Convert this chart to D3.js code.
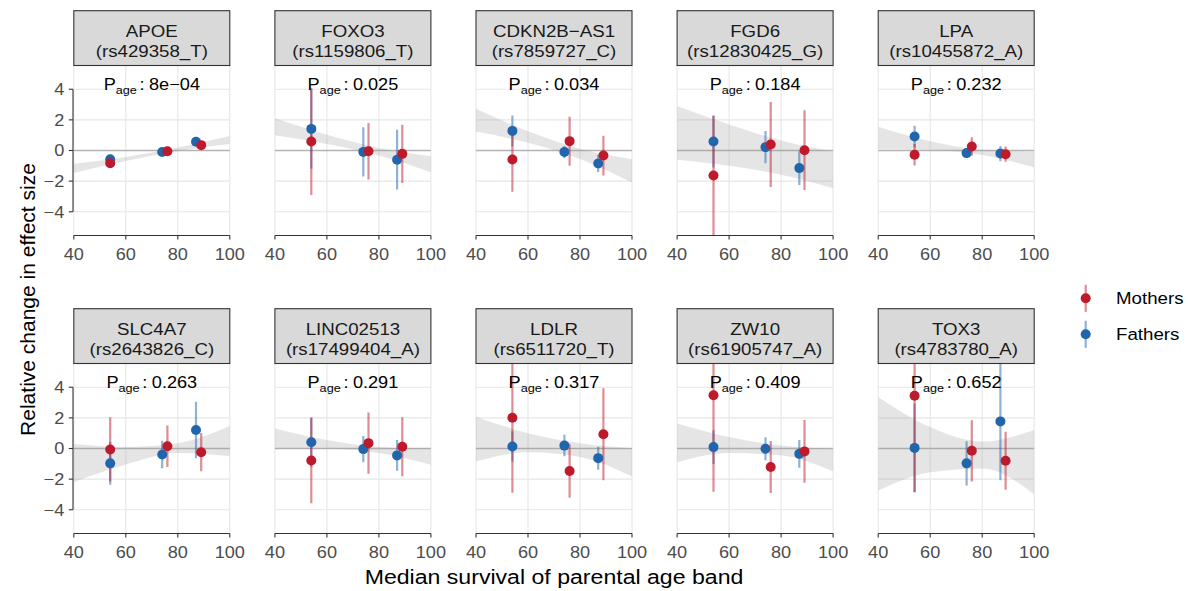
<!DOCTYPE html>
<html>
<head>
<meta charset="utf-8">
<script src="https://cdn.jsdelivr.net/npm/d3@7"></script>
<style>
  html, body { margin: 0; padding: 0; background: #ffffff; }
  svg { display: block; }
  text { font-family: "Liberation Sans", Arial, Helvetica, sans-serif; }
</style>
</head>
<body>
<svg id="chart" width="1190" height="591"></svg>
<script>
// ---------------- data ----------------
const genes = ["APOE", "FOXO3", "CDKN2B\u2212AS1", "FGD6", "LPA",
               "SLC4A7", "LINC02513", "LDLR", "ZW10", "TOX3"];
const snps = ["rs429358_T", "rs1159806_T", "rs7859727_C", "rs12830425_G", "rs10455872_A",
              "rs2643826_C", "rs17499404_A", "rs6511720_T", "rs61905747_A", "rs4783780_A"];
const pAge = ["8e\u221204", "0.025", "0.034", "0.184", "0.232",
              "0.263", "0.291", "0.317", "0.409", "0.652"];

const ageFathers = [54, 74, 87];
const ageMothers = [54, 76, 89];

const fathersEst = [
  [-0.57, -0.10, 0.57], [1.41, -0.09, -0.60], [1.28, -0.10, -0.85], [0.59, 0.22, -1.15], [0.91, -0.17, -0.20],
  [-0.97, -0.39, 1.21], [0.41, -0.04, -0.45], [0.13, 0.19, -0.63], [0.09, -0.02, -0.35], [0.04, -0.97, 1.77]
];
const fathersErr = [
  [0.25, 0.20, 0.25], [2.60, 1.60, 1.95], [1.00, 0.40, 0.55], [1.70, 1.05, 1.10], [0.70, 0.30, 0.50],
  [1.40, 0.90, 1.85], [1.60, 0.85, 1.00], [1.00, 0.70, 0.75], [1.10, 0.75, 0.90], [2.90, 1.45, 3.85]
];
const mothersEst = [
  [-0.83, -0.05, 0.35], [0.59, -0.05, -0.22], [-0.59, 0.61, -0.33], [-1.63, 0.39, 0.02], [-0.28, 0.26, -0.24],
  [-0.06, 0.15, -0.24], [-0.78, 0.35, 0.11], [2.01, -1.47, 0.93], [3.48, -1.21, -0.19], [3.44, -0.15, -0.80]
];
const mothersErr = [
  [0.25, 0.20, 0.20], [3.50, 1.85, 1.90], [2.10, 1.60, 1.30], [3.90, 2.77, 2.60], [0.70, 0.60, 0.50],
  [2.10, 1.35, 1.25], [2.80, 2.00, 1.93], [4.90, 1.75, 3.00], [6.30, 1.70, 2.05], [6.30, 2.00, 1.90]
];

// confidence band of the age trend, read at x = 40, 60, 80, 100
const bandAges = [40, 60, 80, 100];
const bandLower = [
  [-1.47, -0.68, -0.05, 0.42], [1.00, 0.43, -0.33, -1.42], [1.24, 0.50, -0.55, -2.09], [-0.60, -1.00, -1.58, -2.46], [0.10, 0.05, -0.30, -1.10],
  [-2.20, -1.05, -0.30, -0.50], [0.00, 0.00, -0.30, -1.06], [-0.85, -0.25, -0.55, -1.82], [-0.90, -0.30, -0.45, -1.49], [-2.75, -1.55, -1.30, -3.00]
];
const bandUpper = [
  [-0.87, -0.42, 0.20, 0.95], [2.10, 1.03, 0.17, -0.38], [2.72, 1.26, 0.12, -0.57], [2.90, 1.69, 0.66, -0.06], [1.55, 0.60, 0.05, -0.07],
  [0.30, 0.10, 0.35, 1.47], [1.30, 0.55, 0.10, 0.00], [2.08, 1.00, 0.35, 0.02], [1.64, 0.75, 0.20, -0.02], [3.37, 1.40, 0.45, 1.21]
];

const xTicks = [40, 60, 80, 100];
const yTicks = [-4, -2, 0, 2, 4];
const seriesNames = ["Mothers", "Fathers"];

// ---------------- layout / style ----------------
const SX = 1.1;               // horizontal text stretch of the reference
const colMothers = "#BE1A2C";
const colFathers = "#2166AC";
const panelW = 156, panelH = 170;
const panelX0 = 73.8, panelStep = 201.1;
const panelTops = [65.5, 363.5];
const stripH = 54.8;

const svg = d3.select("#chart");
const x = d3.scaleLinear().domain([40, 100]).range([0, panelW]);
const y = d3.scaleLinear().domain([-5.55, 5.55]).range([panelH, 0]);

function stext(g, px, py, s, size, anchor, fill) {
  return g.append("text")
    .attr("transform", `translate(${px},${py}) scale(${SX},1)`)
    .attr("text-anchor", anchor || "middle")
    .attr("font-size", size)
    .attr("fill", fill || "#1a1a1a")
    .text(s);
}

const defs = svg.append("defs");
defs.append("clipPath").attr("id", "pclip")
  .append("rect").attr("x", 0).attr("y", 0).attr("width", panelW).attr("height", panelH);

const area = d3.area()
  .x((d) => x(d[0]))
  .y0((d) => y(d[1]))
  .y1((d) => y(d[2]))
  .curve(d3.curveMonotoneX);

genes.forEach((gene, i) => {
  const col = i % 5, row = Math.floor(i / 5);
  const px = panelX0 + col * panelStep;
  const py = panelTops[row];
  const g = svg.append("g").attr("transform", `translate(${px},${py})`);

  // strip
  const sg = svg.append("g").attr("transform", `translate(${px},${py - stripH})`);
  sg.append("rect").attr("x", 0).attr("y", 0).attr("width", panelW).attr("height", stripH)
    .attr("fill", "#d9d9d9").attr("stroke", "#333333").attr("stroke-width", 1.1);
  stext(sg, panelW / 2, 25.8, gene, 17);
  stext(sg, panelW / 2, 45.8, "(" + snps[i] + ")", 17);

  // grid
  g.selectAll("line.gy").data(yTicks).join("line")
    .attr("x1", 0).attr("x2", panelW).attr("y1", (d) => y(d)).attr("y2", (d) => y(d))
    .attr("stroke", "#e6e6e6").attr("stroke-width", 1.1);
  g.selectAll("line.gx").data(xTicks).join("line")
    .attr("x1", (d) => x(d)).attr("x2", (d) => x(d)).attr("y1", 0).attr("y2", panelH)
    .attr("stroke", "#e6e6e6").attr("stroke-width", 1.1);

  // zero reference line
  g.append("line").attr("x1", 0).attr("x2", panelW).attr("y1", y(0)).attr("y2", y(0))
    .attr("stroke", "#b3b3b3").attr("stroke-width", 1.3);

  const pg = g.append("g").attr("clip-path", "url(#pclip)");
  // ribbon
  const band = bandAges.map((a, k) => [a, bandLower[i][k], bandUpper[i][k]]);
  pg.append("path").datum(band).attr("d", area)
    .attr("fill", "#999999").attr("fill-opacity", 0.25);

  const fathers = ageFathers.map((a, k) => ({ a, e: fathersEst[i][k], s: fathersErr[i][k] }));
  const mothers = ageMothers.map((a, k) => ({ a, e: mothersEst[i][k], s: mothersErr[i][k] }));

  [[fathers, colFathers], [mothers, colMothers]].forEach(([data, c]) => {
    pg.selectAll(null).data(data).join("line")
      .attr("x1", (d) => x(d.a)).attr("x2", (d) => x(d.a))
      .attr("y1", (d) => y(d.e - d.s)).attr("y2", (d) => y(d.e + d.s))
      .attr("stroke", c).attr("stroke-opacity", 0.5).attr("stroke-width", 2.2);
  });
  [[fathers, colFathers], [mothers, colMothers]].forEach(([data, c]) => {
    pg.selectAll(null).data(data).join("circle")
      .attr("cx", (d) => x(d.a)).attr("cy", (d) => y(d.e)).attr("r", 5)
      .attr("fill", c);
  });

  // P_age label
  const t = g.append("text")
    .attr("transform", `translate(${x(70)},24.5) scale(${SX},1)`)
    .attr("text-anchor", "middle").attr("font-size", 16.5).attr("fill", "#000");
  t.append("tspan").text("P");
  t.append("tspan").attr("font-size", 11.5).attr("dy", 3.5).text("age");
  t.append("tspan").attr("dy", -3.5).attr("dx", 2.5).text(":");
  t.append("tspan").attr("dx", 4).text(pAge[i]);

  // x axis
  const ax = g.append("g").attr("transform", `translate(0,${panelH})`);
  ax.append("line").attr("x1", x(40)).attr("x2", x(100)).attr("y1", 0).attr("y2", 0)
    .attr("stroke", "#333333").attr("stroke-width", 1.1);
  xTicks.forEach((v) => {
    ax.append("line").attr("x1", x(v)).attr("x2", x(v)).attr("y1", 0).attr("y2", 4)
      .attr("stroke", "#333333").attr("stroke-width", 1.1);
    stext(ax, x(v), 24.5, String(v), 16.5, "middle", "#4d4d4d");
  });

  // y axis (first column only), capped at the tick range
  if (col === 0) {
    const ay = g.append("g");
    ay.append("line").attr("x1", -0.8).attr("x2", -0.8).attr("y1", y(4)).attr("y2", y(-4))
      .attr("stroke", "#333333").attr("stroke-width", 1.1);
    yTicks.forEach((v) => {
      ay.append("line").attr("x1", -5).attr("x2", -0.8).attr("y1", y(v)).attr("y2", y(v))
        .attr("stroke", "#333333").attr("stroke-width", 1.1);
      stext(ay, -9.5, y(v) + 5.9, v < 0 ? "\u2212" + Math.abs(v) : String(v), 16.5, "end", "#4d4d4d");
    });
  }
});

// axis titles
stext(svg, 554, 584, "Median survival of parental age band", 21, "middle", "#000");
svg.append("text")
  .attr("transform", "translate(35,299.5) rotate(-90)")
  .attr("text-anchor", "middle").attr("font-size", 21).attr("fill", "#000")
  .text("Relative change in effect size");

// legend
const legY = [298.3, 334.3];
const legCols = [colMothers, colFathers];
seriesNames.forEach((name, k) => {
  const lg = svg.append("g").attr("transform", `translate(1085.7,${legY[k]})`);
  lg.append("line").attr("x1", 0).attr("x2", 0).attr("y1", -13.5).attr("y2", 13.5)
    .attr("stroke", legCols[k]).attr("stroke-opacity", 0.5).attr("stroke-width", 2.2);
  lg.append("circle").attr("r", 5).attr("fill", legCols[k]);
  stext(lg, 30.3, 6.1, name, 17, "start", "#000");
});
</script>
</body>
</html>
